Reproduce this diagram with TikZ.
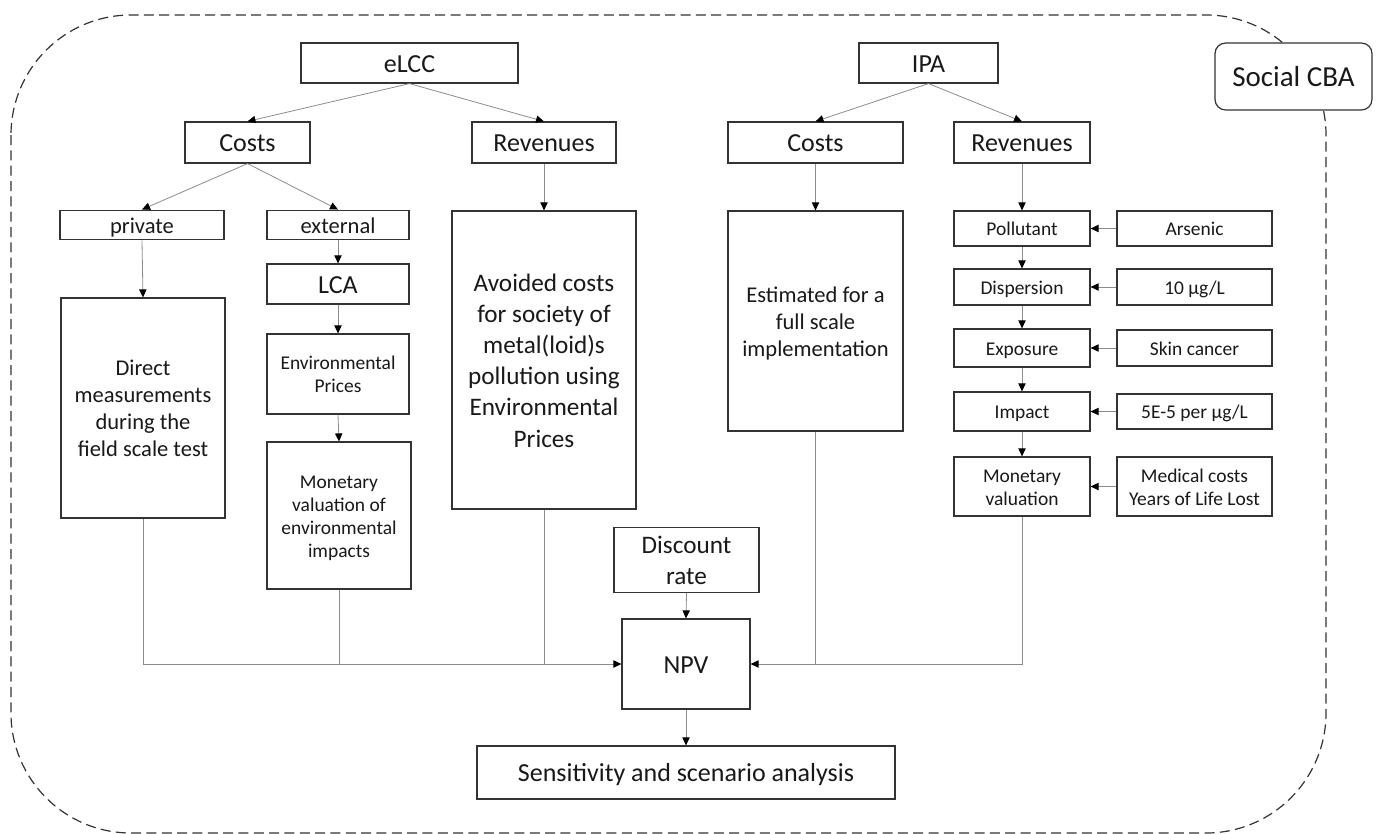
\documentclass[tikz,border=0pt]{standalone}
\usepackage{fontspec}
\setmainfont{Carlito}
\usetikzlibrary{arrows.meta}
\newcommand\topstrut{\rule{0pt}{1.02em}}
\newcommand\botstrut{\rule[-0.3em]{0pt}{0.3em}}
\newcommand\bx[7]{\node[box,#6,minimum width={(#4-#2)*0.75pt},minimum height={(#5-#3)*0.75pt}] (#1) at ({(#2+#4)/2},{(#3+#5)/2}) {\topstrut#7\botstrut};}
\begin{document}
\begin{tikzpicture}[x=0.75pt,y=-0.75pt,
  box/.style={draw=black!80, line width=0.9pt, fill=white, inner sep=0pt, align=center, text=black!90},
  bigf/.style={font=\fontsize{19.5}{23.25}\selectfont},
  avf/.style={font=\fontsize{18.9}{23.4}\selectfont},
  midf/.style={font=\fontsize{16.9}{20.25}\selectfont},
  smallf/.style={font=\fontsize{14.6}{17.25}\selectfont},
  conn/.style={draw=black!45, line width=0.6pt},
  arr/.style={conn, -{Triangle[length=6pt,width=5.5pt,color=black]}},
  boundary/.style={draw=black!80, line width=0.9pt, dash pattern=on 7.5pt off 4pt, rounded corners=90pt},
]
\useasboundingbox (0,0) rectangle (1378,833);
\draw[boundary] (11,15) rectangle (1326,833);

% top level
\bx{social}{1215}{43}{1372}{110}{rounded corners=8pt, font=\fontsize{21.75}{26}\selectfont}{Social CBA}
\bx{elcc}{301}{43}{518}{83}{bigf}{eLCC}
\bx{ipa}{859}{43}{998}{83}{bigf}{IPA}
\bx{costsA}{185}{122}{310}{163}{bigf}{Costs}
\bx{revA}{472}{122}{616}{163}{bigf}{Revenues}
\bx{costsB}{728}{122}{903}{163}{bigf}{Costs}
\bx{revB}{954}{122}{1090}{163}{bigf}{Revenues}

% eLCC branch
\bx{private}{60}{211}{224}{239}{midf}{private}
\bx{external}{267}{211}{409}{239}{midf}{external}
\bx{lca}{267}{264}{409}{304}{bigf}{LCA}
\bx{envp}{267}{334}{409}{414}{smallf}{Environmental\\Prices}
\bx{monenv}{267}{442}{411}{589}{smallf}{Monetary\\valuation of\\environmental\\impacts}
\bx{direct}{61}{298}{225}{518}{midf}{Direct\\measurements\\during the\\field scale test}
\bx{avoided}{452}{211}{636}{509}{avf}{Avoided costs\\for society of\\metal(loid)s\\pollution using\\Environmental\\Prices}

% IPA branch
\bx{estimated}{728}{211}{903}{431}{midf}{Estimated for a\\full scale\\implementation}
\bx{pollutant}{954}{211}{1090}{246}{smallf}{Pollutant}
\bx{arsenic}{1117}{211}{1272}{246}{smallf}{Arsenic}
\bx{dispersion}{954}{269}{1090}{305}{smallf}{Dispersion}
\bx{conc}{1117}{269}{1272}{305}{smallf}{10 µg/L}
\bx{exposure}{954}{329}{1090}{367}{smallf}{Exposure}
\bx{skin}{1117}{330}{1272}{366}{smallf}{Skin cancer}
\bx{impact}{954}{392}{1090}{431}{smallf}{Impact}
\bx{slope}{1117}{394}{1272}{429}{smallf}{5E-5 per µg/L}
\bx{monval}{954}{457}{1090}{516}{smallf}{Monetary\\valuation}
\bx{medical}{1117}{457}{1272}{516}{smallf}{Medical costs\\Years of Life Lost}

% bottom
\bx{discount}{614}{529}{759}{591}{avf}{Discount\\rate}
\bx{npv}{622}{619}{750}{709}{bigf}{NPV}
\bx{sens}{477}{746}{895}{799}{bigf}{Sensitivity and scenario analysis}

% connectors
\draw[arr] (elcc.south) -- (costsA.north);
\draw[arr] (elcc.south) -- (revA.north);
\draw[arr] (ipa.south) -- (costsB.north);
\draw[arr] (ipa.south) -- (revB.north);
\draw[arr] (costsA.south) -- (private.north);
\draw[arr] (costsA.south) -- (external.north);
\draw[arr] (revA.south) -- (avoided.north);
\draw[arr] (private.south) -- (direct.north);
\draw[arr] (external.south) -- (lca.north);
\draw[arr] (lca.south) -- (envp.north);
\draw[arr] (envp.south) -- (monenv.north);
\draw[arr] (costsB.south) -- (estimated.north);
\draw[arr] (revB.south) -- (pollutant.north);
\draw[arr] (pollutant.south) -- (dispersion.north);
\draw[arr] (dispersion.south) -- (exposure.north);
\draw[arr] (exposure.south) -- (impact.north);
\draw[arr] (impact.south) -- (monval.north);
\draw[arr] (arsenic.west) -- (arsenic.west -| pollutant.east);
\draw[arr] (conc.west) -- (conc.west -| dispersion.east);
\draw[arr] (skin.west) -- (skin.west -| exposure.east);
\draw[arr] (slope.west) -- (slope.west -| impact.east);
\draw[arr] (medical.west) -- (medical.west -| monval.east);
\draw[arr] (discount.south) -- (npv.north);
\draw[arr] (npv.south) -- (sens.north);
\draw[arr] (direct.south) |- (npv.west);
\draw[conn] (monenv.south) -- (monenv.south |- npv.west);
\draw[conn] (avoided.south) -- (avoided.south |- npv.west);
\draw[arr] (monval.south) |- (npv.east);
\draw[conn] (estimated.south) -- (estimated.south |- npv.east);
\end{tikzpicture}
\end{document}
